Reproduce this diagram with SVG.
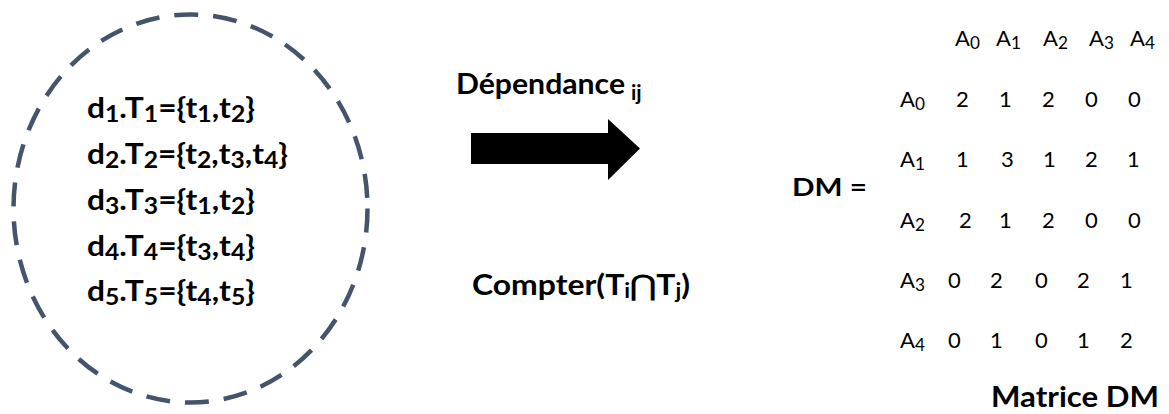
<svg xmlns="http://www.w3.org/2000/svg" width="1169" height="414" viewBox="0 0 1169 414">
<style>
.b{font-family:Lato,"Open Sans","Noto Sans",sans-serif;font-weight:bold;fill:#000}
.r{font-family:Lato,"Open Sans","Noto Sans",sans-serif;font-size:22px;fill:#000}
.sub{font-size:78%}
.set{font-size:29px}
</style>
<rect width="1169" height="414" fill="#fff"/>
<g id="documents">
<ellipse cx="190.5" cy="208.5" rx="177" ry="194" fill="none" stroke="#44546A" stroke-width="4.5" stroke-dasharray="24 15"/>
<text class="b set" x="87" y="118" textLength="168" lengthAdjust="spacingAndGlyphs">d<tspan class="sub" dy="4">1</tspan><tspan dy="-4">.T</tspan><tspan class="sub" dy="4">1</tspan><tspan dy="-4">={t</tspan><tspan class="sub" dy="4">1</tspan><tspan dy="-4">,t</tspan><tspan class="sub" dy="4">2</tspan><tspan dy="-4">}</tspan></text>
<text class="b set" x="87" y="164" textLength="201" lengthAdjust="spacingAndGlyphs">d<tspan class="sub" dy="4">2</tspan><tspan dy="-4">.T</tspan><tspan class="sub" dy="4">2</tspan><tspan dy="-4">={t</tspan><tspan class="sub" dy="4">2</tspan><tspan dy="-4">,t</tspan><tspan class="sub" dy="4">3</tspan><tspan dy="-4">,t</tspan><tspan class="sub" dy="4">4</tspan><tspan dy="-4">}</tspan></text>
<text class="b set" x="87" y="210" textLength="168" lengthAdjust="spacingAndGlyphs">d<tspan class="sub" dy="4">3</tspan><tspan dy="-4">.T</tspan><tspan class="sub" dy="4">3</tspan><tspan dy="-4">={t</tspan><tspan class="sub" dy="4">1</tspan><tspan dy="-4">,t</tspan><tspan class="sub" dy="4">2</tspan><tspan dy="-4">}</tspan></text>
<text class="b set" x="87" y="256" textLength="168" lengthAdjust="spacingAndGlyphs">d<tspan class="sub" dy="4">4</tspan><tspan dy="-4">.T</tspan><tspan class="sub" dy="4">4</tspan><tspan dy="-4">={t</tspan><tspan class="sub" dy="4">3</tspan><tspan dy="-4">,t</tspan><tspan class="sub" dy="4">4</tspan><tspan dy="-4">}</tspan></text>
<text class="b set" x="87" y="301" textLength="168" lengthAdjust="spacingAndGlyphs">d<tspan class="sub" dy="4">5</tspan><tspan dy="-4">.T</tspan><tspan class="sub" dy="4">5</tspan><tspan dy="-4">={t</tspan><tspan class="sub" dy="4">4</tspan><tspan dy="-4">,t</tspan><tspan class="sub" dy="4">5</tspan><tspan dy="-4">}</tspan></text>
</g>
<g id="connectors">
<polygon points="471,133 608,133 608,119 640,148.5 608,180 608,164 471,164" fill="#000"/>
</g>
<g id="labels">
<text class="b" font-size="29" x="456" y="94" textLength="169" lengthAdjust="spacingAndGlyphs">Dépendance</text>
<text class="b" font-size="21" x="631" y="100">ij</text>
<text class="b" font-size="28" x="472" y="295" textLength="218" lengthAdjust="spacingAndGlyphs">Compter(T<tspan font-size="20" dy="3">i</tspan><tspan dy="-3">⋂T</tspan><tspan font-size="20" dy="3">j</tspan><tspan dy="-3">)</tspan></text>
</g>
<g id="matrix">
<text class="b" font-size="25" x="792" y="196" textLength="75" lengthAdjust="spacingAndGlyphs">DM =</text>
<g class="r">
<text x="955" y="46">A<tspan class="sub" dy="3">0</tspan></text>
<text x="996" y="46">A<tspan class="sub" dy="3">1</tspan></text>
<text x="1043" y="46">A<tspan class="sub" dy="3">2</tspan></text>
<text x="1089" y="46">A<tspan class="sub" dy="3">3</tspan></text>
<text x="1130" y="46">A<tspan class="sub" dy="3">4</tspan></text>
<text x="900" y="107">A<tspan class="sub" dy="3">0</tspan></text>
<text x="900" y="167">A<tspan class="sub" dy="3">1</tspan></text>
<text x="900" y="228">A<tspan class="sub" dy="3">2</tspan></text>
<text x="900" y="288">A<tspan class="sub" dy="3">3</tspan></text>
<text x="900" y="348">A<tspan class="sub" dy="3">4</tspan></text>
</g>
<g class="r" font-size="23">
<text x="956" y="107">2</text><text x="999" y="107">1</text><text x="1042" y="107">2</text><text x="1085" y="107">0</text><text x="1128" y="107">0</text>
<text x="956" y="167">1</text><text x="1001" y="167">3</text><text x="1043" y="167">1</text><text x="1085" y="167">2</text><text x="1127" y="167">1</text>
<text x="959" y="228">2</text><text x="999" y="228">1</text><text x="1042" y="228">2</text><text x="1085" y="228">0</text><text x="1128" y="228">0</text>
<text x="948" y="288">0</text><text x="990" y="288">2</text><text x="1035" y="288">0</text><text x="1077" y="288">2</text><text x="1120" y="288">1</text>
<text x="948" y="348">0</text><text x="990" y="348">1</text><text x="1035" y="348">0</text><text x="1077" y="348">1</text><text x="1120" y="348">2</text>
</g>
<text class="b" font-size="28" x="991" y="407" textLength="168" lengthAdjust="spacingAndGlyphs">Matrice DM</text>
</g>
</svg>
